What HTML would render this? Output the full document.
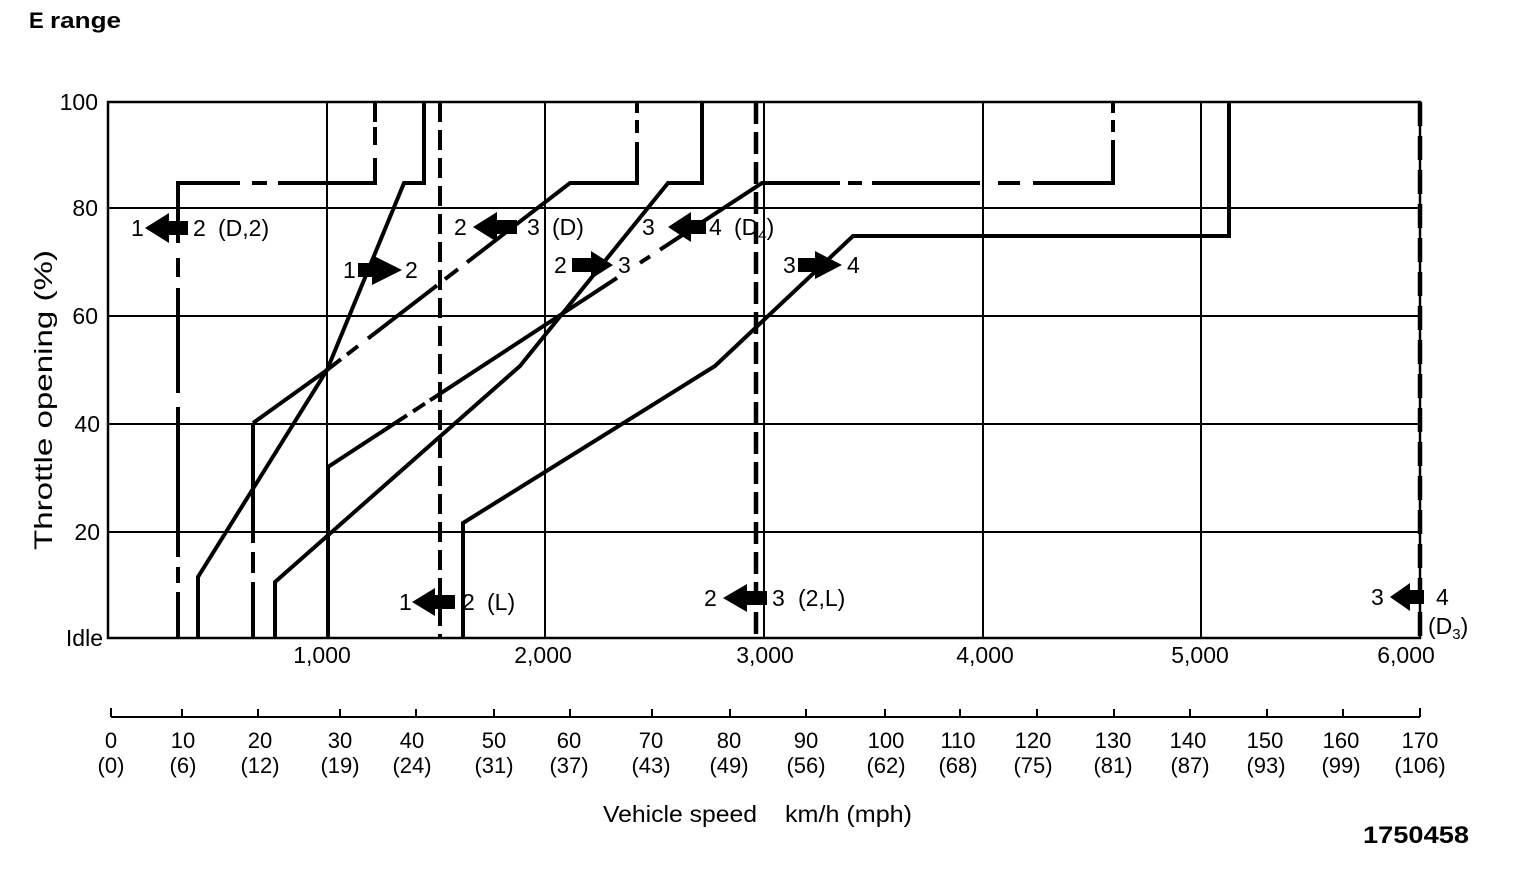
<!DOCTYPE html>
<html>
<head>
<meta charset="utf-8">
<style>
html,body{margin:0;padding:0;background:#fff;}
svg{display:block;}
text{font-family:"Liberation Sans",Arial,sans-serif;fill:#000;}
</style>
</head>
<body>
<svg width="1520" height="870" viewBox="0 0 1520 870" xmlns="http://www.w3.org/2000/svg">
<rect width="1520" height="870" fill="#fff"/>

<!-- Title -->
<text x="29" y="28" font-size="22" font-weight="bold">E</text>
<text x="50" y="28" font-size="22" font-weight="bold" textLength="71" lengthAdjust="spacingAndGlyphs">range</text>

<!-- Grid -->
<g stroke="#000" stroke-width="2" fill="none">
  <line x1="108" y1="208" x2="1420" y2="208"/>
  <line x1="108" y1="316" x2="1420" y2="316"/>
  <line x1="108" y1="424" x2="1420" y2="424"/>
  <line x1="108" y1="532" x2="1420" y2="532"/>
  <line x1="327" y1="102" x2="327" y2="638"/>
  <line x1="545" y1="102" x2="545" y2="638"/>
  <line x1="764" y1="102" x2="764" y2="638"/>
  <line x1="983" y1="102" x2="983" y2="638"/>
  <line x1="1201" y1="102" x2="1201" y2="638"/>
</g>
<rect x="108" y="102" width="1312" height="536" fill="none" stroke="#000" stroke-width="2.5"/>

<!-- Y tick labels -->
<g font-size="23" text-anchor="end">
  <text x="98" y="110">100</text>
  <text x="98" y="216">80</text>
  <text x="98" y="324">60</text>
  <text x="100" y="432">40</text>
  <text x="100" y="540">20</text>
  <text x="103" y="646">Idle</text>
</g>
<text transform="translate(52,400) rotate(-90)" font-size="25" text-anchor="middle" textLength="300" lengthAdjust="spacingAndGlyphs">Throttle opening  (%)</text>

<!-- X rpm labels -->
<g font-size="23" text-anchor="middle">
  <text x="322" y="663">1,000</text>
  <text x="543" y="663">2,000</text>
  <text x="765" y="663">3,000</text>
  <text x="985" y="663">4,000</text>
  <text x="1200" y="663">5,000</text>
  <text x="1406" y="663">6,000</text>
</g>

<!-- Shift lines -->
<g stroke="#000" stroke-width="4" fill="none" stroke-linejoin="miter" stroke-linecap="butt">
  <!-- A: 1<-2 (D,2) -->
  <path d="M178,183 V243 M178,258 V277 M178,288 V393 M178,407 V557 M178,567 V583 M178,592 V638"/>
  <path d="M176,183 H240 M252,183 H267 M278,183 H375"/>
  <path d="M375,102 V122 M375,127 V145 M375,158 V185"/>

  <!-- B: 1->2 -->
  <path d="M198,638 V577 L327,370 L404,183 H424 V102"/>

  <!-- C: 1<-2 (L) dashed vertical -->
  <line x1="440" y1="102" x2="440" y2="638" stroke-dasharray="20,8"/>

  <!-- D: 2<-3 (D) -->
  <path d="M253,423 V543 M253,552 V573 M253,582 V638"/>
  <path d="M253,423 L327,370"/>
  <path d="M327,370 L341,359.2 M347,354.6 L358,346.1 M368,338.5 L437,285.4 M445,279.2 L458,269.2 M467,262.3 L570,183 H637"/>
  <path d="M637,102 V113 M637,120 V133 M637,142 V185"/>

  <!-- E: 3<-4 (D4) -->
  <path d="M328,638 V467 L407,415.3 M413,411.4 L425,403.5 M430,400.3 L617,277.9 M640,262.8 L650,256.3 M660,249.7 L762,183 H840 M848,183 H862 M872,183 H980 M998,183 H1020 M1033,183 H1113"/>
  <path d="M1113,102 V113 M1113,120 V132 M1113,140 V185"/>

  <!-- F: 2->3 -->
  <path d="M275,638 V582 L520,366 L668,183 H702 V102"/>

  <!-- G: 3->4 -->
  <path d="M463,638 V523 L715,366 L853,236 H1229 V102"/>

  <!-- H: 2<-3 (2,L) dashed vertical -->
  <line x1="756" y1="102" x2="756" y2="638" stroke-dasharray="22,8" stroke-width="4.5"/>

  <!-- I: 3<-4 (D3) right border -->
  <line x1="1420" y1="102" x2="1420" y2="638" stroke-dasharray="24,10" stroke-width="4.5"/>
</g>

<!-- Arrows (left-pointing) -->
<g fill="#000">
  <polygon points="145,228 169,213 169,221 188,221 188,235 169,235 169,243"/>
  <polygon points="473,227 497,212 497,220 517,220 517,234 497,234 497,242"/>
  <polygon points="668,227 691,212 691,220 706,220 706,234 691,234 691,242"/>
  <polygon points="412,602 435,588 435,595 455,595 455,609 435,609 435,616"/>
  <polygon points="723,598 747,584 747,591 767,591 767,605 747,605 747,612"/>
  <polygon points="1390,597 1410,583 1410,590 1424,590 1424,604 1410,604 1410,611"/>
  <!-- right-pointing -->
  <polygon points="402,270 372,255 372,263 358,263 358,277 372,277 372,285"/>
  <polygon points="613,265 591,251 591,258 572,258 572,272 591,272 591,279"/>
  <polygon points="842,265 815,251 815,258 798,258 798,272 815,272 815,279"/>
</g>

<!-- Arrow labels -->
<g font-size="23">
  <text x="131" y="236">1</text><text x="193" y="236">2</text><text x="218" y="236">(D,2)</text>
  <text x="343" y="278">1</text><text x="405" y="278">2</text>
  <text x="454" y="235">2</text><text x="527" y="235">3</text><text x="552" y="235">(D)</text>
  <text x="554" y="273">2</text><text x="618" y="273">3</text>
  <text x="642" y="235">3</text><text x="709" y="235">4</text>
  <text x="734" y="235">(D<tspan font-size="15" dy="5">4</tspan><tspan dy="-5">)</tspan></text>
  <text x="783" y="273">3</text><text x="847" y="273">4</text>
  <text x="399" y="610">1</text><text x="462" y="610">2</text><text x="487" y="610">(L)</text>
  <text x="704" y="606">2</text><text x="772" y="606">3</text><text x="798" y="606">(2,L)</text>
  <text x="1371" y="605">3</text><text x="1436" y="605">4</text>
  <text x="1428" y="634">(D<tspan font-size="15" dy="5">3</tspan><tspan dy="-5">)</tspan></text>
</g>

<!-- Vehicle speed axis -->
<g stroke="#000" stroke-width="2" fill="none">
  <line x1="111" y1="717" x2="1420" y2="717"/>
  <path d="M111,708 V717 M182,709 V717 M258,709 V717 M340,709 V717 M416,709 V717 M494,709 V717 M570,709 V717 M652,709 V717 M730,709 V717 M806,709 V717 M885,709 V717 M960,709 V717 M1037,709 V717 M1114,709 V717 M1190,709 V717 M1267,709 V717 M1343,709 V717 M1420,708 V717"/>
</g>
<g font-size="22" text-anchor="middle">
  <text x="111" y="748">0</text><text x="111" y="773">(0)</text>
  <text x="183" y="748">10</text><text x="183" y="773">(6)</text>
  <text x="260" y="748">20</text><text x="260" y="773">(12)</text>
  <text x="340" y="748">30</text><text x="340" y="773">(19)</text>
  <text x="412" y="748">40</text><text x="412" y="773">(24)</text>
  <text x="494" y="748">50</text><text x="494" y="773">(31)</text>
  <text x="569" y="748">60</text><text x="569" y="773">(37)</text>
  <text x="651" y="748">70</text><text x="651" y="773">(43)</text>
  <text x="729" y="748">80</text><text x="729" y="773">(49)</text>
  <text x="806" y="748">90</text><text x="806" y="773">(56)</text>
  <text x="886" y="748">100</text><text x="886" y="773">(62)</text>
  <text x="958" y="748">110</text><text x="958" y="773">(68)</text>
  <text x="1033" y="748">120</text><text x="1033" y="773">(75)</text>
  <text x="1113" y="748">130</text><text x="1113" y="773">(81)</text>
  <text x="1188" y="748">140</text><text x="1190" y="773">(87)</text>
  <text x="1265" y="748">150</text><text x="1266" y="773">(93)</text>
  <text x="1341" y="748">160</text><text x="1341" y="773">(99)</text>
  <text x="1420" y="748">170</text><text x="1420" y="773">(106)</text>
</g>

<text x="603" y="822" font-size="23" textLength="154" lengthAdjust="spacingAndGlyphs">Vehicle speed</text>
<text x="785" y="822" font-size="23" textLength="127" lengthAdjust="spacingAndGlyphs">km/h  (mph)</text>
<text x="1363" y="843" font-size="24" font-weight="bold" textLength="106" lengthAdjust="spacingAndGlyphs">1750458</text>
</svg>
</body>
</html>
